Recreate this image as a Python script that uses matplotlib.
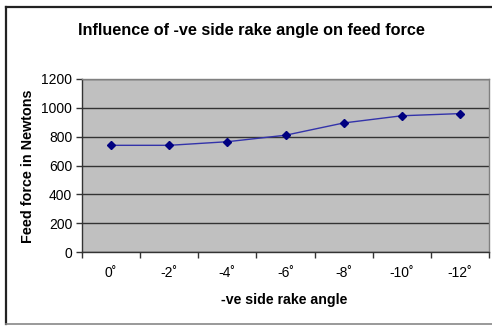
import matplotlib
matplotlib.use("Agg")
import matplotlib.pyplot as plt
from matplotlib.lines import Line2D

categories = ["0˚", "-2˚", "-4˚", "-6˚", "-8˚", "-10˚", "-12˚"]
feed_force = [740, 740, 765, 810, 895, 945, 960]
y_ticks = [0, 200, 400, 600, 800, 1000, 1200]

plt.rcParams['font.family'] = ['Liberation Sans', 'DejaVu Sans']

W, H = 492, 326
fig = plt.figure(figsize=(W/100, H/100), dpi=100)
fig.patch.set_facecolor('white')

# outer chart frame
fig.add_artist(Line2D([6/W, 6/W], [1-7/H, 1-324/H], color='#222222', lw=1.6, transform=fig.transFigure))
fig.add_artist(Line2D([6/W, 1.0], [1-7/H, 1-7/H], color='#222222', lw=1.6, transform=fig.transFigure))
fig.add_artist(Line2D([6/W, 1.0], [1-324/H, 1-324/H], color='#888888', lw=1.2, transform=fig.transFigure))

ax = fig.add_axes([82/W, 1-252/H, (489-82)/W, (252-79)/H])
ax.set_facecolor('#C0C0C0')

x = list(range(len(categories)))
ax.plot(x, feed_force, color='#3333AA', lw=1.0, marker='D', markersize=4.5,
        markerfacecolor='#000080', markeredgecolor='#000080', zorder=3)

ax.set_xlim(-0.5, len(categories) - 0.5)
ax.set_ylim(0, 1200)
ax.set_yticks(y_ticks)
ax.set_yticklabels([str(v) for v in y_ticks], fontsize=10)
ax.yaxis.grid(True, color='#333333', lw=1.0)
ax.set_axisbelow(True)

ax.set_xticks([i - 0.5 for i in range(len(categories) + 1)])
ax.set_xticklabels([])
ax.set_xticks(x, minor=True)
ax.set_xticklabels(categories, minor=True, fontsize=10)
ax.tick_params(axis='x', which='minor', length=0, pad=10)
ax.tick_params(axis='x', which='major', length=4, width=1, direction='out', color='#333333')
ax.tick_params(axis='y', length=4, width=1, direction='out', color='#333333', pad=3)

for s in ['top', 'right']:
    ax.spines[s].set_color('#808080')
    ax.spines[s].set_linewidth(1.0)
for s in ['left', 'bottom']:
    ax.spines[s].set_color('#333333')
    ax.spines[s].set_linewidth(1.0)

fig.text(251/W, 1-30/H, "Influence of -ve side rake angle on feed force",
         ha='center', va='center', fontsize=11.7, fontweight='bold')
fig.text(284/W, 1-300/H, "-ve side rake angle", ha='center', va='center',
         fontsize=10.2, fontweight='bold')
fig.text(28/W, 1-166/H, "Feed force in Newtons", ha='center', va='center',
         rotation=90, fontsize=10.4, fontweight='bold')

fig.savefig("out.png", dpi=100)
